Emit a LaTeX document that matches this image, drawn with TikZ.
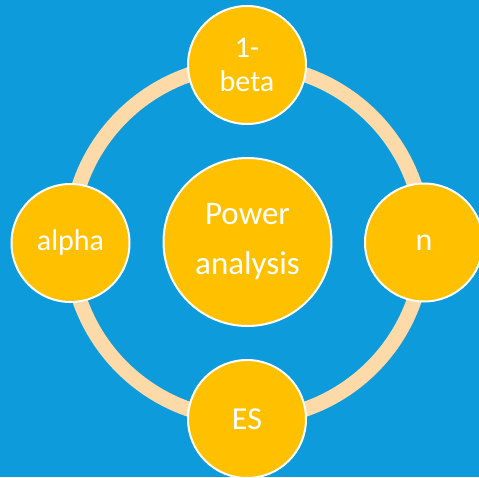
\documentclass[tikz,border=0pt]{standalone}
\usepackage{fontspec}
\setmainfont{Carlito}
\definecolor{bg}{RGB}{14,155,219}
\definecolor{ring}{RGB}{253,218,168}
\definecolor{gold}{RGB}{255,192,0}
\begin{document}
\begin{tikzpicture}[x=1pt,y=1pt,
  bubble/.style={circle,draw=white,line width=2pt,fill=gold,text=white,align=center,inner sep=0pt},
  small/.style={bubble,minimum size=118pt},
  big/.style={bubble,minimum size=168pt}]
\fill[bg] (0,0) rectangle (479,477);
\useasboundingbox (0,0) rectangle (479,477);
\coordinate (c) at (247,235);
\draw[ring,line width=15pt] (c) circle[radius=177pt];
\node[big,font=\fontsize{33}{50}\selectfont] (power) at (247.5,235) {Power\\analysis};
\node[small,font=\fontsize{30}{34}\selectfont] (beta) at (247,412) {1-\\beta};
\node[small,font=\fontsize{30}{34}\selectfont] (alpha) at (70.5,234) {alpha};
\node[small,font=\fontsize{32}{34}\selectfont] (n) at (424,234.5) {n};
\node[small,font=\fontsize{32}{34}\selectfont] (es) at (247,58) {ES};
\end{tikzpicture}
\end{document}
